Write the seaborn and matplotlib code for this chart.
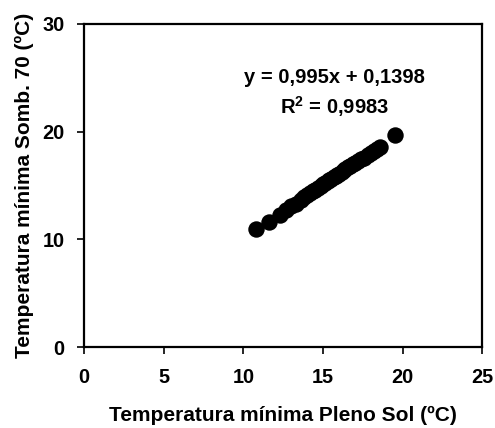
import matplotlib
matplotlib.use("Agg")
import matplotlib.pyplot as plt
import seaborn as sns
import pandas as pd

# Daily minimum temperatures (ºC): full sun vs. 70% shade
pleno_sol = [10.8, 11.6, 12.3, 12.7, 13.0, 13.3, 13.6, 13.8, 14.0, 14.2,
             14.4, 14.5, 14.7, 14.9, 15.0, 15.1, 15.3, 15.4, 15.5, 15.7,
             15.8, 15.9, 16.0, 16.2, 16.3, 16.4, 16.6, 16.7, 16.9, 17.0,
             17.2, 17.4, 17.6, 17.8, 18.0, 18.2, 18.4, 18.6, 19.5]
somb_70 = [11.0, 11.6, 12.3, 12.7, 13.1, 13.3, 13.7, 13.9, 14.1, 14.3,
           14.5, 14.6, 14.8, 15.0, 15.1, 15.2, 15.4, 15.5, 15.6, 15.8,
           15.9, 16.0, 16.1, 16.3, 16.4, 16.5, 16.7, 16.8, 17.0, 17.1,
           17.3, 17.5, 17.6, 17.8, 18.0, 18.2, 18.4, 18.6, 19.7]

equation = "y = 0,995x + 0,1398"
r_squared = "R$^\\mathbf{2}$ = 0,9983"

x_ticks = [0, 5, 10, 15, 20, 25]
y_ticks = [0, 10, 20, 30]

df = pd.DataFrame({"sol": pleno_sol, "somb": somb_70})

sns.set_theme(style="ticks")
plt.rcParams["font.family"] = ["Liberation Sans", "DejaVu Sans"]
plt.rcParams["font.weight"] = "bold"
plt.rcParams["mathtext.fontset"] = "custom"
plt.rcParams["mathtext.bf"] = "Liberation Sans:bold"
plt.rcParams["mathtext.rm"] = "Liberation Sans:bold"
plt.rcParams["mathtext.default"] = "bf"
plt.rcParams["text.color"] = "black"
plt.rcParams["axes.labelcolor"] = "black"
plt.rcParams["xtick.color"] = "black"
plt.rcParams["ytick.color"] = "black"

fig = plt.figure(figsize=(4.95, 4.28), dpi=100)
ax = fig.add_axes([0.170, 0.189, 0.804, 0.755])

sns.scatterplot(data=df, x="sol", y="somb", ax=ax, color="black",
                s=140, edgecolor="black", linewidth=0, legend=False)

ax.set_xlim(0, 25)
ax.set_ylim(0, 30)
ax.set_xticks(x_ticks)
ax.set_yticks(y_ticks)
ax.tick_params(axis="both", direction="out", length=5, width=1.2,
               labelsize=14.3, color="black")
ax.tick_params(axis="x", pad=10)
ax.tick_params(axis="y", pad=9)
for lab in ax.get_xticklabels() + ax.get_yticklabels():
    lab.set_fontweight("bold")
    lab.set_color("black")
for sp in ax.spines.values():
    sp.set_linewidth(1.6)
    sp.set_color("black")
    sp.set_visible(True)

ax.set_xlabel("Temperatura mínima Pleno Sol (ºC)", fontsize=15,
              fontweight="bold", labelpad=14)
ax.set_ylabel("Temperatura mínima Somb. 70 (ºC)", fontsize=15,
              fontweight="bold", labelpad=6)

ax.text(0.628, 0.833, equation, transform=ax.transAxes, ha="center",
        va="center", fontsize=14.5, fontweight="bold")
ax.text(0.628, 0.743, r_squared, transform=ax.transAxes, ha="center",
        va="center", fontsize=14.5, fontweight="bold")

fig.savefig("out.png", dpi=100)
